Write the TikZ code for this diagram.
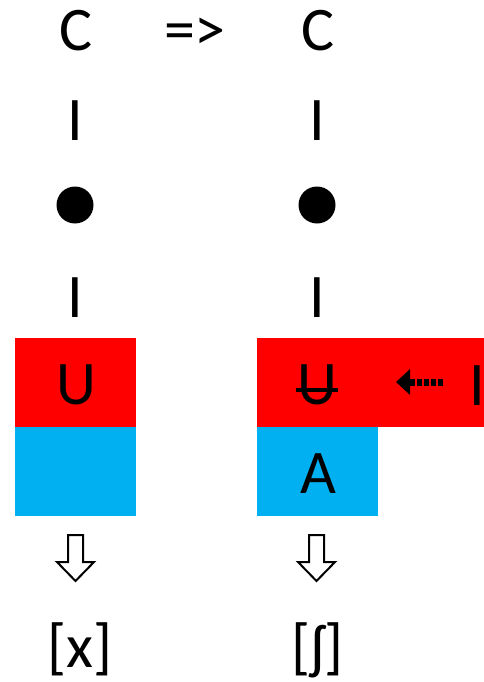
\documentclass[tikz,border=0pt]{standalone}
\usepackage{fontspec}
\setmainfont{Carlito}
\usetikzlibrary{arrows.meta}
\definecolor{cyanb}{HTML}{00B0F0}
\begin{document}
\begin{tikzpicture}[x=1pt,y=-1pt,
  lbl/.style={font=\fontsize{62}{66}\selectfont, inner sep=0pt, anchor=base},
  redbox/.style={fill=red, draw=none, inner sep=0pt, minimum width=121pt, minimum height=89pt},
  bluebox/.style={fill=cyanb, draw=none, inner sep=0pt, minimum width=121pt, minimum height=89pt},
  dot/.style={circle, fill=black, minimum size=37pt, inner sep=0pt},
  blockarrow/.style={draw=black, line width=2pt, fill=white, line join=miter}]
\useasboundingbox (0,0) rectangle (484,682);
% boxes
\node[redbox] (r1) at (75.5,382.5) {};
\node[bluebox] (b1) at (75.5,471.5) {};
\node[redbox, minimum width=227pt] (r2) at (370.5,382.5) {};
\node[bluebox] (b2) at (317.5,471.5) {};
% left column
\node[lbl] (c1) at (76,51) {C};
\node[lbl] (i1) at (75,140) {I};
\node[dot] (d1) at (75,205) {};
\node[lbl] (i2) at (75,317) {I};
\node[lbl] (u1) at (76,404) {U};
% middle
\node[lbl] (imp) at (195,51) {=>};
% right column
\node[lbl] (c2) at (318,51) {C};
\node[lbl] (i3) at (317,140) {I};
\node[dot] (d2) at (317,205) {};
\node[lbl] (i4) at (317,317) {I};
\node[lbl] (u2) at (317,404) {U};
\node[lbl] (a2) at (318,493) {A};
\node[lbl] (i5) at (477,405) {I};
% strike through U
\coordinate (s1) at (296,390);
\coordinate (s2) at (338,390);
\draw[line width=4pt] (s1) -- (s2);
% dashed arrow
\coordinate (dsrc) at (443,382);
\coordinate (dtgt) at (396,382);
\draw[line width=7pt, dash pattern=on 5pt off 2pt, -{Triangle[length=14pt,width=25pt]}] (dsrc) -- (dtgt);
% block arrows
\coordinate (da1) at (75.5,535);
\coordinate (da2) at (316.5,535);
\foreach \c in {da1,da2}{
  \draw[blockarrow] (\c) ++(-7.5,0) -- ++(15,0) -- ++(0,27) -- ++(11,0) -- ++(-18.5,19) -- ++(-18.5,-19) -- ++(11,0) -- cycle;
}
% results
\node[lbl, text depth=0pt] (x1) at (80,667) {[x]};
\node[lbl, text depth=0pt] (x2) at (317.5,667) {[ʃ]};
\end{tikzpicture}
\end{document}
